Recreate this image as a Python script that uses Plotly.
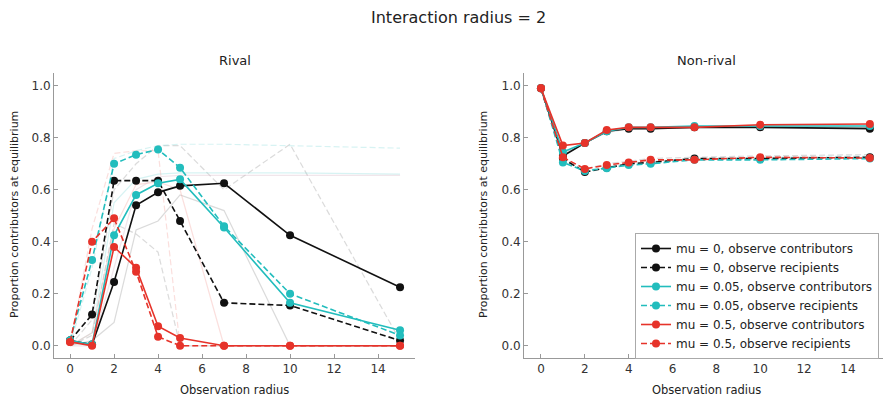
import plotly.graph_objects as go

W, H = 883, 401

obs_radius = [0, 1, 2, 3, 4, 5, 7, 10, 15]

# Rival panel (main series)
rival_mu0_contrib = [0.02, 0.005, 0.245, 0.54, 0.59, 0.615, 0.625, 0.425, 0.225]
rival_mu0_recip = [0.02, 0.12, 0.635, 0.635, 0.635, 0.48, 0.165, 0.155, 0.02]
rival_mu005_contrib = [0.02, 0.005, 0.425, 0.58, 0.625, 0.64, 0.455, 0.165, 0.06]
rival_mu005_recip = [0.02, 0.33, 0.70, 0.735, 0.755, 0.685, 0.46, 0.20, 0.04]
rival_mu05_contrib = [0.015, 0.0, 0.38, 0.30, 0.075, 0.03, 0.0, 0.0, 0.0]
rival_mu05_recip = [0.015, 0.40, 0.49, 0.285, 0.035, 0.0, 0.0, 0.0, 0.0]

# Rival panel (faint background series)
rival_bg_gray_solid = [0.0, 0.02, 0.09, 0.445, 0.48, 0.58, 0.52, 0.0, 0.0]
rival_bg_gray_dash1 = [0.0, 0.04, 0.47, 0.43, 0.36, 0.0, 0.0, 0.0, 0.0]
rival_bg_gray_dash2 = [0.0, 0.10, 0.60, 0.70, 0.77, 0.77, 0.60, 0.775, 0.02]
rival_bg_cyan_solid = [0.0, 0.05, 0.55, 0.64, 0.66, 0.665, 0.665, 0.665, 0.66]
rival_bg_cyan_dash = [0.0, 0.30, 0.72, 0.75, 0.77, 0.775, 0.775, 0.77, 0.76]
rival_bg_pink_solid1 = [0.0, 0.05, 0.45, 0.62, 0.63, 0.60, 0.0, 0.0, 0.0]
rival_bg_pink_solid2 = [0.0, 0.0, 0.30, 0.60, 0.65, 0.655, 0.655, 0.655, 0.655]
rival_bg_pink_dash = [0.0, 0.45, 0.74, 0.75, 0.75, 0.0, 0.0, 0.0, 0.0]

# Non-rival panel (main series)
nr_mu0_contrib = [0.99, 0.73, 0.78, 0.825, 0.835, 0.835, 0.84, 0.84, 0.835]
nr_mu0_recip = [0.99, 0.72, 0.668, 0.685, 0.70, 0.705, 0.72, 0.72, 0.725]
nr_mu005_contrib = [0.99, 0.745, 0.78, 0.825, 0.84, 0.84, 0.845, 0.845, 0.845]
nr_mu005_recip = [0.99, 0.705, 0.672, 0.683, 0.695, 0.70, 0.715, 0.715, 0.72]
nr_mu05_contrib = [0.99, 0.77, 0.78, 0.83, 0.84, 0.84, 0.84, 0.85, 0.853]
nr_mu05_recip = [0.99, 0.725, 0.68, 0.695, 0.705, 0.715, 0.715, 0.725, 0.722]

# Non-rival panel (faint background series)
nr_bg_gray_dash = [0.99, 0.72, 0.68, 0.70, 0.71, 0.72, 0.725, 0.73, 0.735]
nr_bg_cyan_dash = [0.99, 0.71, 0.675, 0.69, 0.70, 0.71, 0.72, 0.725, 0.73]
nr_bg_gray_solid = [0.99, 0.74, 0.78, 0.82, 0.835, 0.835, 0.84, 0.84, 0.84]

x_ticks = [0, 2, 4, 6, 8, 10, 12, 14]
y_ticks = [0.0, 0.2, 0.4, 0.6, 0.8, 1.0]
y_tick_text = ["0.0", "0.2", "0.4", "0.6", "0.8", "1.0"]

BLACK = "#111111"
CYAN = "#22bdbd"
RED = "#e6332a"
DASH = "6px,3px"
FONT = "DejaVu Sans, Verdana, sans-serif"

fig = go.Figure()

def faint(xa, ya, y, color, dash):
    fig.add_trace(go.Scatter(
        x=obs_radius, y=y, xaxis=xa, yaxis=ya, mode="lines",
        line=dict(color=color, width=1.2, dash=DASH if dash else "solid"),
        opacity=0.35, showlegend=False, hoverinfo="skip"))

faint("x", "y", rival_bg_gray_solid, "#999999", False)
faint("x", "y", rival_bg_gray_dash1, "#999999", True)
faint("x", "y", rival_bg_gray_dash2, "#999999", True)
faint("x", "y", rival_bg_cyan_solid, "#8fdede", False)
faint("x", "y", rival_bg_cyan_dash, "#8fdede", True)
faint("x", "y", rival_bg_pink_solid1, "#f5a5a0", False)
faint("x", "y", rival_bg_pink_solid2, "#d9b8c8", False)
faint("x", "y", rival_bg_pink_dash, "#f5a5a0", True)
faint("x2", "y2", nr_bg_gray_dash, "#999999", True)
faint("x2", "y2", nr_bg_cyan_dash, "#8fdede", True)
faint("x2", "y2", nr_bg_gray_solid, "#999999", False)

series = [
    ("mu = 0, observe contributors", BLACK, False, rival_mu0_contrib, nr_mu0_contrib),
    ("mu = 0, observe recipients", BLACK, True, rival_mu0_recip, nr_mu0_recip),
    ("mu = 0.05, observe contributors", CYAN, False, rival_mu005_contrib, nr_mu005_contrib),
    ("mu = 0.05, observe recipients", CYAN, True, rival_mu005_recip, nr_mu005_recip),
    ("mu = 0.5, observe contributors", RED, False, rival_mu05_contrib, nr_mu05_contrib),
    ("mu = 0.5, observe recipients", RED, True, rival_mu05_recip, nr_mu05_recip),
]

for name, color, dashed, yr, yn in series:
    line = dict(color=color, width=1.6, dash=DASH if dashed else "solid")
    marker = dict(color=color, size=8, line=dict(width=0))
    fig.add_trace(go.Scatter(x=obs_radius, y=yr, xaxis="x", yaxis="y", mode="lines+markers",
                             line=line, marker=marker, name=name, showlegend=False, legendgroup=name))
    fig.add_trace(go.Scatter(x=obs_radius, y=yn, xaxis="x2", yaxis="y2", mode="lines+markers",
                             line=line, marker=marker, name=name, showlegend=True, legendgroup=name))

def px_x(p):
    return p / W

def px_y(p):
    return 1 - p / H

axis_common = dict(
    showline=True, linecolor="#999999", linewidth=1,
    ticks="inside", ticklen=4, tickcolor="#999999", tickwidth=1,
    showgrid=False, zeroline=False,
    tickfont=dict(family=FONT, size=12, color="#333333"),
)

ydom = [px_y(358), px_y(73)]
fig.update_layout(
    width=W, height=H,
    margin=dict(l=0, r=0, t=0, b=0),
    paper_bgcolor="white", plot_bgcolor="white",
    font=dict(family=FONT, color="#222222"),
    xaxis=dict(domain=[px_x(54), px_x(415)], range=[-0.73, 15.68], anchor="y",
               tickvals=x_ticks, **axis_common),
    yaxis=dict(domain=ydom, range=[-0.047, 1.049], anchor="x",
               tickvals=y_ticks, ticktext=y_tick_text, **axis_common),
    xaxis2=dict(domain=[px_x(524), 1.0], range=[-0.775, 15.6], anchor="y2",
                tickvals=x_ticks, **axis_common),
    yaxis2=dict(domain=ydom, range=[-0.047, 1.049], anchor="x2",
                tickvals=y_ticks, ticktext=y_tick_text, **axis_common),
    legend=dict(x=px_x(879), y=px_y(233), xanchor="right", yanchor="top",
                bordercolor="#aaaaaa", borderwidth=1, bgcolor="white",
                font=dict(family=FONT, size=12, color="#222222"),
                tracegroupgap=0, itemwidth=30),
    showlegend=True,
)

ann = [
    dict(text="Interaction radius = 2", x=px_x(459), y=px_y(17), size=16),
    dict(text="Rival", x=px_x(235), y=px_y(60), size=13),
    dict(text="Non-rival", x=px_x(706), y=px_y(60), size=13),
    dict(text="Observation radius", x=px_x(235), y=px_y(390), size=11.5),
    dict(text="Observation radius", x=px_x(706), y=px_y(390), size=11.5),
]
for a in ann:
    fig.add_annotation(text=a["text"], x=a["x"], y=a["y"], xref="paper", yref="paper",
                       xanchor="center", yanchor="middle", showarrow=False,
                       font=dict(family=FONT, size=a["size"], color="#222222"))
for xp in (14, 483):
    fig.add_annotation(text="Proportion contributors at equilibrium", x=px_x(xp), y=px_y(215),
                       xref="paper", yref="paper", xanchor="center", yanchor="middle",
                       showarrow=False, textangle=-90,
                       font=dict(family=FONT, size=11, color="#222222"))

fig.write_html("out.html")
